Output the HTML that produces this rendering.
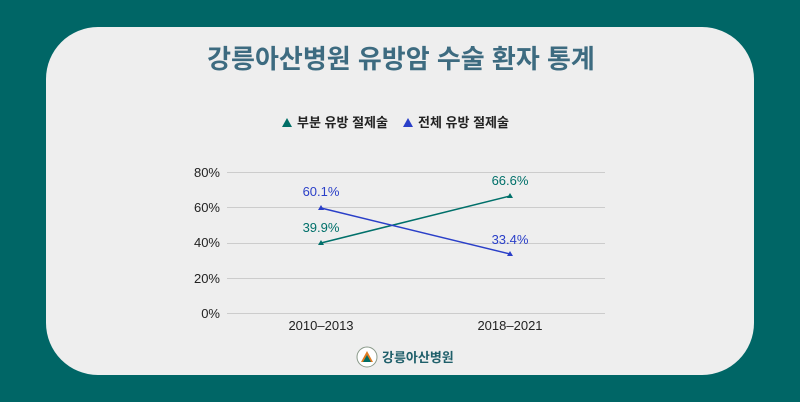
<!DOCTYPE html>
<html><head><meta charset="utf-8"><style>
html,body{margin:0;padding:0;width:800px;height:402px;overflow:hidden;background:#006666;font-family:"Liberation Sans","Noto Sans CJK KR",sans-serif;}
.card{position:absolute;left:46px;top:27px;width:708px;height:348px;background:#eeeeee;border-radius:52px;}
</style></head><body>
<div class="card"></div>
<svg width="800" height="402" style="position:absolute;left:0;top:0" font-family="Liberation Sans, Noto Sans CJK KR, sans-serif">
<text x="401" y="68" text-anchor="middle" font-size="26" font-weight="bold" fill="#3d6b80">강릉아산병원 유방암 수술 환자 통계</text>
<polygon points="282,127 287,118 292,127" fill="#006e66"/>
<text x="297" y="127" font-size="13" font-weight="bold" fill="#222">부분 유방 절제술</text>
<polygon points="403,127 408,118 413,127" fill="#2a3fc8"/>
<text x="418" y="127" font-size="13" font-weight="bold" fill="#222">전체 유방 절제술</text>
<g stroke="#cccccc" stroke-width="1">
<line x1="227" y1="172.5" x2="605" y2="172.5"/><line x1="227" y1="207.5" x2="605" y2="207.5"/><line x1="227" y1="243.5" x2="605" y2="243.5"/><line x1="227" y1="278.5" x2="605" y2="278.5"/><line x1="227" y1="313.5" x2="605" y2="313.5"/>
</g>
<g font-size="13" fill="#222" text-anchor="end">
<text x="220" y="177">80%</text><text x="220" y="212">60%</text><text x="220" y="247">40%</text><text x="220" y="283">20%</text><text x="220" y="318">0%</text>
</g>
<g font-size="13" fill="#222" text-anchor="middle">
<text x="321" y="330">2010–2013</text><text x="510" y="330">2018–2021</text>
</g>
<line x1="321" y1="243" x2="510" y2="196" stroke="#00706a" stroke-width="1.5"/>
<line x1="321" y1="208" x2="510" y2="254" stroke="#2a3fc8" stroke-width="1.5"/>
<polygon points="318,245 321,240 324,245" fill="#00706a"/>
<polygon points="507,198 510,193 513,198" fill="#00706a"/>
<polygon points="318,210 321,205 324,210" fill="#2a3fc8"/>
<polygon points="507,256 510,251 513,256" fill="#2a3fc8"/>
<g font-size="13" text-anchor="middle">
<text x="321" y="196" fill="#2a3fc8">60.1%</text>
<text x="321" y="232" fill="#00706a">39.9%</text>
<text x="510" y="185" fill="#00706a">66.6%</text>
<text x="510" y="244" fill="#2a3fc8">33.4%</text>
</g>
<circle cx="367" cy="357" r="10" fill="#fff" stroke="#8a9a8a" stroke-width="1"/>
<polygon points="361,362 367,351 373,362" fill="#e07a20"/>
<polygon points="363,362 367,355 371,362" fill="#006e66"/>
<text x="382" y="362" font-size="13" font-weight="bold" fill="#1f5f6a">강릉아산병원</text>
</svg>
</body></html>
